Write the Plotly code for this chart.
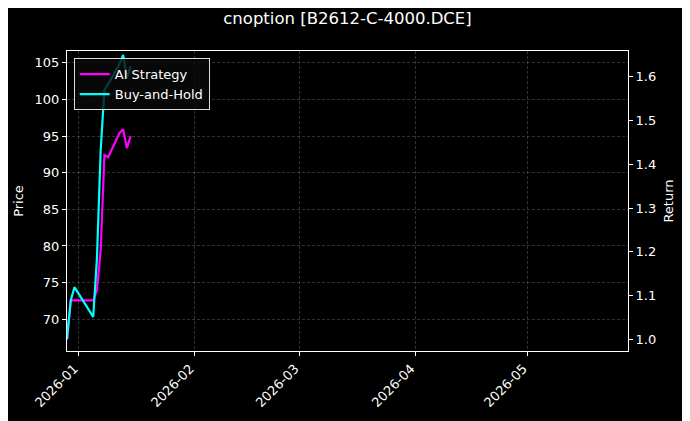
import plotly.graph_objects as go

# trading dates shown in the chart
dates = ["2025-12-29", "2025-12-30", "2025-12-31", "2026-01-05", "2026-01-06",
         "2026-01-07", "2026-01-08", "2026-01-09", "2026-01-12", "2026-01-13",
         "2026-01-14", "2026-01-15"]

ai_strategy = [1.000, 1.089, 1.089, 1.089, 1.112, 1.204, 1.421, 1.416,
               1.471, 1.480, 1.437, 1.464]
buy_and_hold = [1.000, 1.089, 1.119, 1.051, 1.185, 1.432, 1.570, 1.583,
                1.629, 1.650, 1.597, 1.624]

price_ticks = [70, 75, 80, 85, 90, 95, 100, 105]
return_ticks = [1.0, 1.1, 1.2, 1.3, 1.4, 1.5, 1.6]

font_family = "DejaVu Sans"
grid_col = "rgba(140,140,140,0.35)"

fig = go.Figure()

# price axis carries no visible line, keep it alive with an empty trace
fig.add_trace(go.Scatter(x=[], y=[], yaxis="y", showlegend=False, hoverinfo="skip"))

fig.add_trace(go.Scatter(
    x=dates, y=ai_strategy, yaxis="y2", mode="lines",
    line=dict(color="#ff00ff", width=2.2), name="AI Strategy"
))
fig.add_trace(go.Scatter(
    x=dates, y=buy_and_hold, yaxis="y2", mode="lines",
    line=dict(color="#00ffff", width=2.2), name="Buy-and-Hold"
))

# the page puts the figure 8px in from the top-left, margins allow for that
fig.update_layout(
    width=690, height=421,
    paper_bgcolor="black", plot_bgcolor="black",
    font=dict(family=font_family, color="white", size=13),
    margin=dict(l=59, r=70, t=43, b=78),
    title=dict(text="cnoption [B2612-C-4000.DCE]", x=0.5, xref="paper",
               y=0.976, yref="container", xanchor="center", yanchor="middle",
               font=dict(size=16.5, color="white")),
    xaxis=dict(
        type="date", range=["2025-12-29", "2026-05-27 22:00"],
        tick0="2026-01-01", dtick="M1", tickformat="%Y-%m", tickangle=-45,
        ticks="outside", ticklen=4, tickcolor="white", ticklabelshift=-4,
        showline=True, linecolor="white", linewidth=1, mirror=True,
        showgrid=True, gridcolor=grid_col, griddash="3px,2px", gridwidth=0.5,
        zeroline=False, tickfont=dict(size=13), automargin=False
    ),
    yaxis=dict(
        title=dict(text="Price", font=dict(size=13), standoff=8),
        range=[65.67, 106.6], tickvals=price_ticks,
        ticks="outside", ticklen=4, tickcolor="white",
        showline=True, linecolor="white", linewidth=1, mirror=True,
        showgrid=True, gridcolor=grid_col, griddash="3px,2px", gridwidth=0.5,
        zeroline=False, tickfont=dict(size=13), automargin=False
    ),
    yaxis2=dict(
        title=dict(text="Return", font=dict(size=13), standoff=8),
        overlaying="y", side="right", range=[0.9732, 1.6588],
        tickvals=return_ticks, tickformat=".1f",
        ticks="outside", ticklen=4, tickcolor="white",
        showline=True, linecolor="white", linewidth=1,
        showgrid=False, zeroline=False, tickfont=dict(size=13), automargin=False
    ),
    legend=dict(
        x=0.012, y=0.976, xanchor="left", yanchor="top",
        bgcolor="rgba(10,10,10,0.8)", bordercolor="#dddddd", borderwidth=1,
        font=dict(size=13, color="white"), tracegroupgap=0
    ),
    showlegend=True
)

fig.write_html("out.html")
